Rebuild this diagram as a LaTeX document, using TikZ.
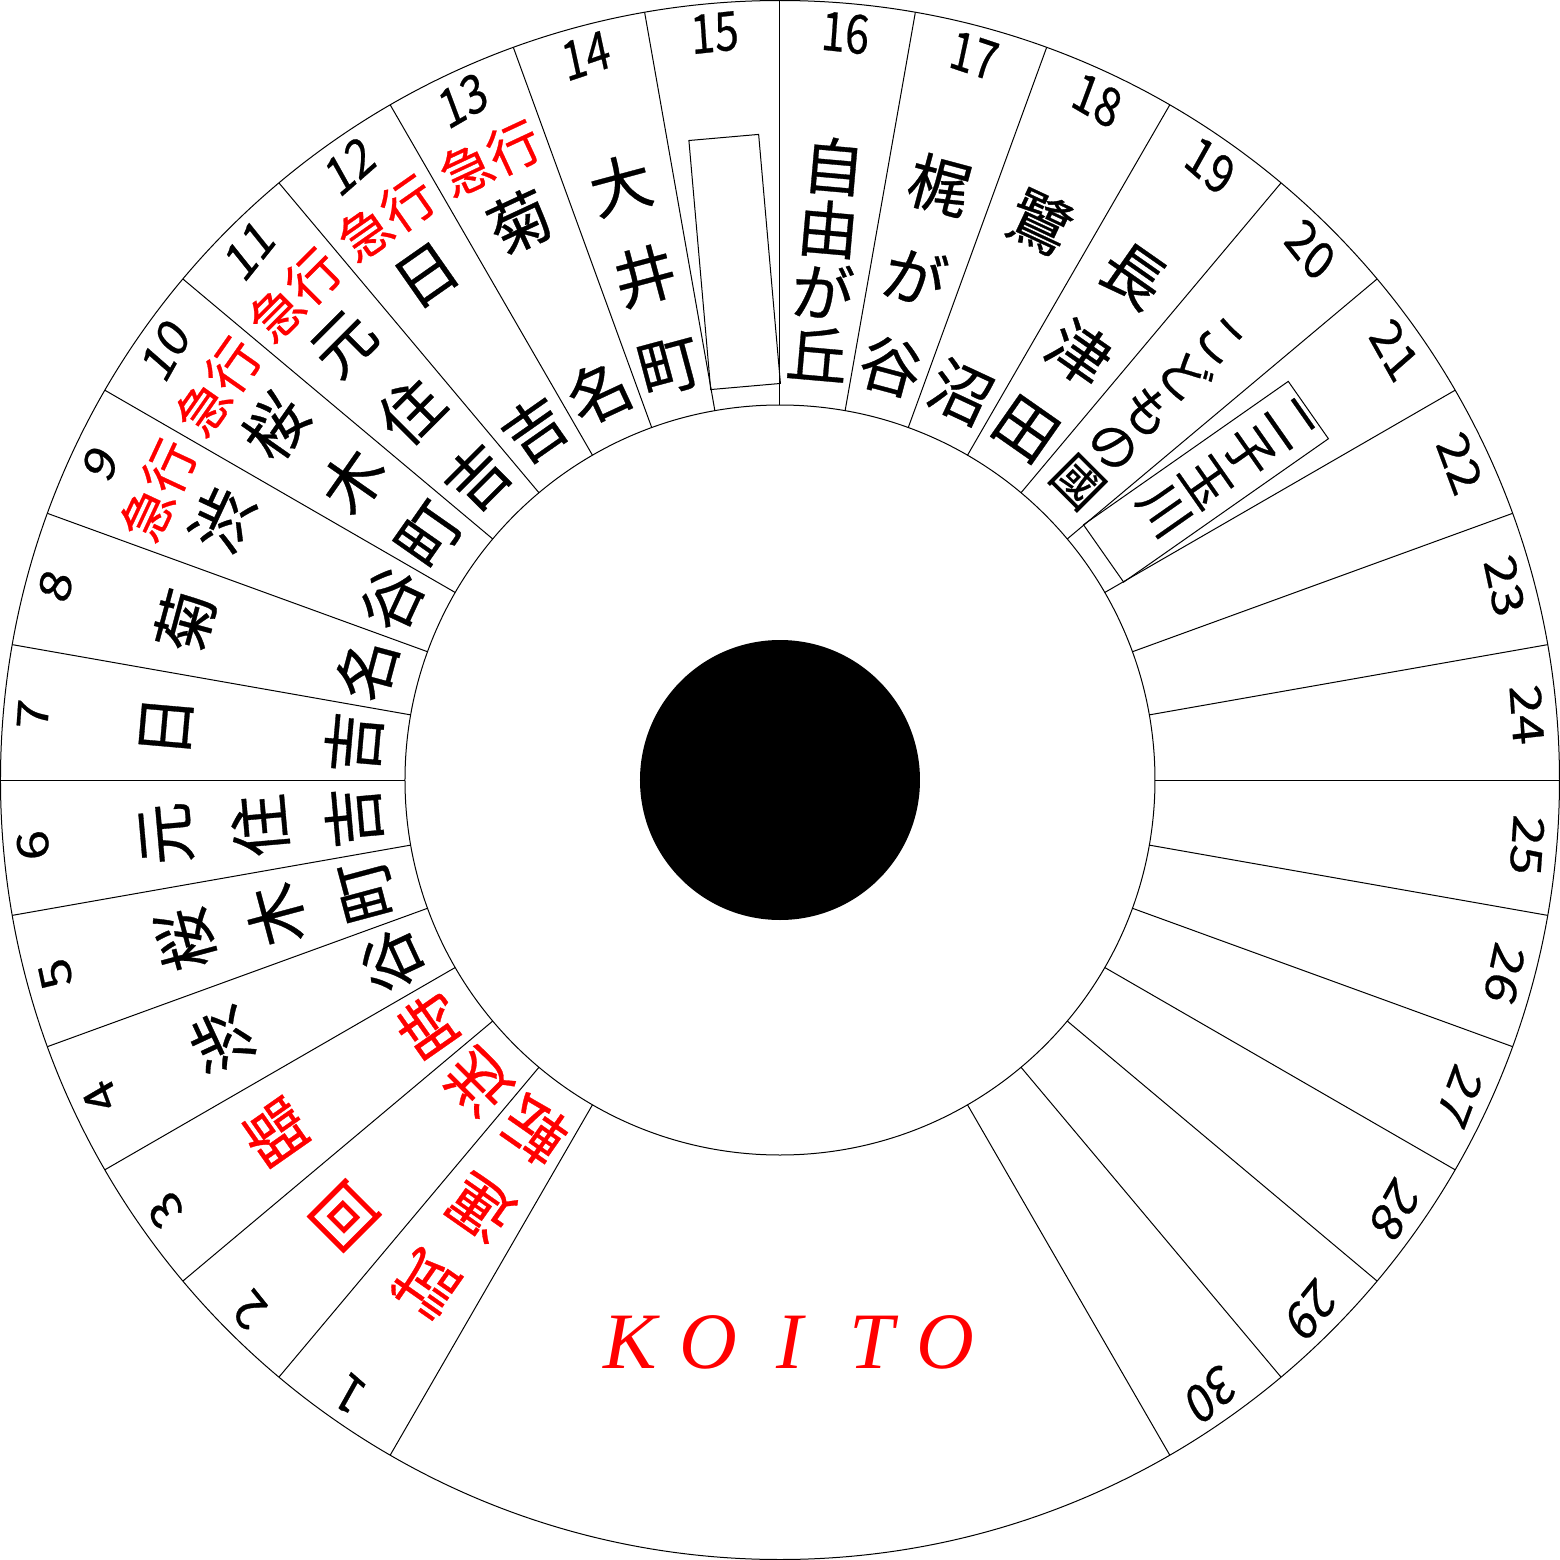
\documentclass[tikz,border=0pt]{standalone}
\usepackage{fontspec}
\newfontfamily\jp[FakeBold=0.5]{Noto Sans CJK JP}
\newfontfamily\koitofont{Liberation Serif}
\newcommand\stc[5]{\node[#1, rotate=#2-90] (#5) at (#2:#3) {#4};}
\begin{document}
\begin{tikzpicture}[x=0.5pt,y=0.5pt,
  rimline/.style={line width=0.5pt, draw=black},
  ch/.style={font=\jp\fontsize{31}{31}\selectfont, inner sep=0pt, text=black},
  chr/.style={ch, text=red},
  chs/.style={font=\jp\fontsize{25}{25}\selectfont, inner sep=0pt, text=black},
  kyuko/.style={font=\jp\fontsize{26}{26}\selectfont, inner sep=0pt, text=red},
  num/.style={font=\jp\fontsize{27}{27}\selectfont, inner sep=0pt, xscale=0.8},
  koito/.style={font=\koitofont\itshape\fontsize{40}{40}\selectfont, text=red, inner sep=0pt, anchor=base},
  plate/.style={draw=black, line width=0.5pt, minimum width=35pt, minimum height=125pt, inner sep=0pt}
]
\useasboundingbox (-780,-780) rectangle (780,780);
\fill[white] (-780,-780) rectangle (780,780);
\draw[rimline] (0,0) circle (779.5);
\draw[rimline] (0,0) circle (375);
\fill[black] (0,0) circle (140);
\foreach \a in {0,10,...,240} \draw[rimline] (\a:375) -- (\a:779.5);
\foreach \a in {300,310,...,350} \draw[rimline] (\a:375) -- (\a:779.5);
% numbers
\foreach \k in {1,...,30}{
  \pgfmathsetmacro\ang{245-10*\k}
  \pgfmathsetmacro\rot{\ang-90}
  \node[num, rotate=\rot] (n\k) at (\ang:750) {\k};
}
% plates
\node[plate, rotate=5] (plate15) at (95:520) {};
\node[plate, rotate=-55] (plate21) at (35:520) {};
% sector 1-3 (red)
\stc{chr}{235}{616}{試}{s1a}
\stc{chr}{235}{522}{運}{s1b}
\stc{chr}{235}{428}{転}{s1c}
\stc{chr}{225}{616}{回}{s2a}
\stc{chr}{225}{428}{送}{s2b}
\stc{chr}{215}{616}{臨}{s3a}
\stc{chr}{215}{428}{時}{s3b}
% sector 4-8
\stc{ch}{205}{616}{渋}{s4a}
\stc{ch}{205}{428}{谷}{s4b}
\stc{ch}{195}{616}{桜}{s5a}
\stc{ch}{195}{522}{木}{s5b}
\stc{ch}{195}{428}{町}{s5c}
\stc{ch}{185}{616}{元}{s6a}
\stc{ch}{185}{522}{住}{s6b}
\stc{ch}{185}{428}{吉}{s6c}
\stc{ch}{175}{616}{日}{s7a}
\stc{ch}{175}{428}{吉}{s7b}
\stc{ch}{165}{616}{菊}{s8a}
\stc{ch}{165}{428}{名}{s8b}
% sector 9-13 express
\stc{kyuko}{155}{686}{急行}{k9}
\stc{ch}{155}{616}{渋}{s9a}
\stc{ch}{155}{428}{谷}{s9b}
\stc{kyuko}{145}{686}{急行}{k10}
\stc{ch}{145}{616}{桜}{s10a}
\stc{ch}{145}{522}{木}{s10b}
\stc{ch}{145}{428}{町}{s10c}
\stc{kyuko}{135}{686}{急行}{k11}
\stc{ch}{135}{616}{元}{s11a}
\stc{ch}{135}{522}{住}{s11b}
\stc{ch}{135}{428}{吉}{s11c}
\stc{kyuko}{125}{686}{急行}{k12}
\stc{ch}{125}{616}{日}{s12a}
\stc{ch}{125}{428}{吉}{s12b}
\stc{kyuko}{115}{686}{急行}{k13}
\stc{ch}{115}{616}{菊}{s13a}
\stc{ch}{115}{428}{名}{s13b}
% sector 14
\stc{ch}{105}{616}{大}{s14a}
\stc{ch}{105}{522}{井}{s14b}
\stc{ch}{105}{428}{町}{s14c}
% sector 16-19
\stc{ch}{85}{616}{自}{s16a}
\stc{ch}{85}{553}{由}{s16b}
\stc{ch}{85}{491}{が}{s16c}
\stc{ch}{85}{428}{丘}{s16d}
\stc{ch}{75}{616}{梶}{s17a}
\stc{ch}{75}{522}{が}{s17b}
\stc{ch}{75}{428}{谷}{s17c}
\stc{ch}{65}{616}{鷺}{s18a}
\stc{ch}{65}{428}{沼}{s18b}
\stc{ch}{55}{616}{長}{s19a}
\stc{ch}{55}{522}{津}{s19b}
\stc{ch}{55}{428}{田}{s19c}
% sector 20
\stc{chs}{45}{622}{こ}{s20a}
\stc{chs}{45}{572}{ど}{s20b}
\stc{chs}{45}{521}{も}{s20c}
\stc{chs}{45}{471}{の}{s20d}
\stc{chs}{45}{421}{國}{s20e}
% sector 21
\stc{chs}{35}{623}{二}{s21a}
\stc{chs}{35}{572}{子}{s21b}
\stc{chs}{35}{520}{玉}{s21c}
\stc{chs}{35}{469}{川}{s21d}
% KOITO
\node[koito] (kK) at (-150,-588) {K};
\node[koito] (kO1) at (-72,-588) {O};
\node[koito] (kI) at (10,-588) {I};
\node[koito] (kT) at (92,-588) {T};
\node[koito] (kO2) at (165,-588) {O};
\end{tikzpicture}
\end{document}
